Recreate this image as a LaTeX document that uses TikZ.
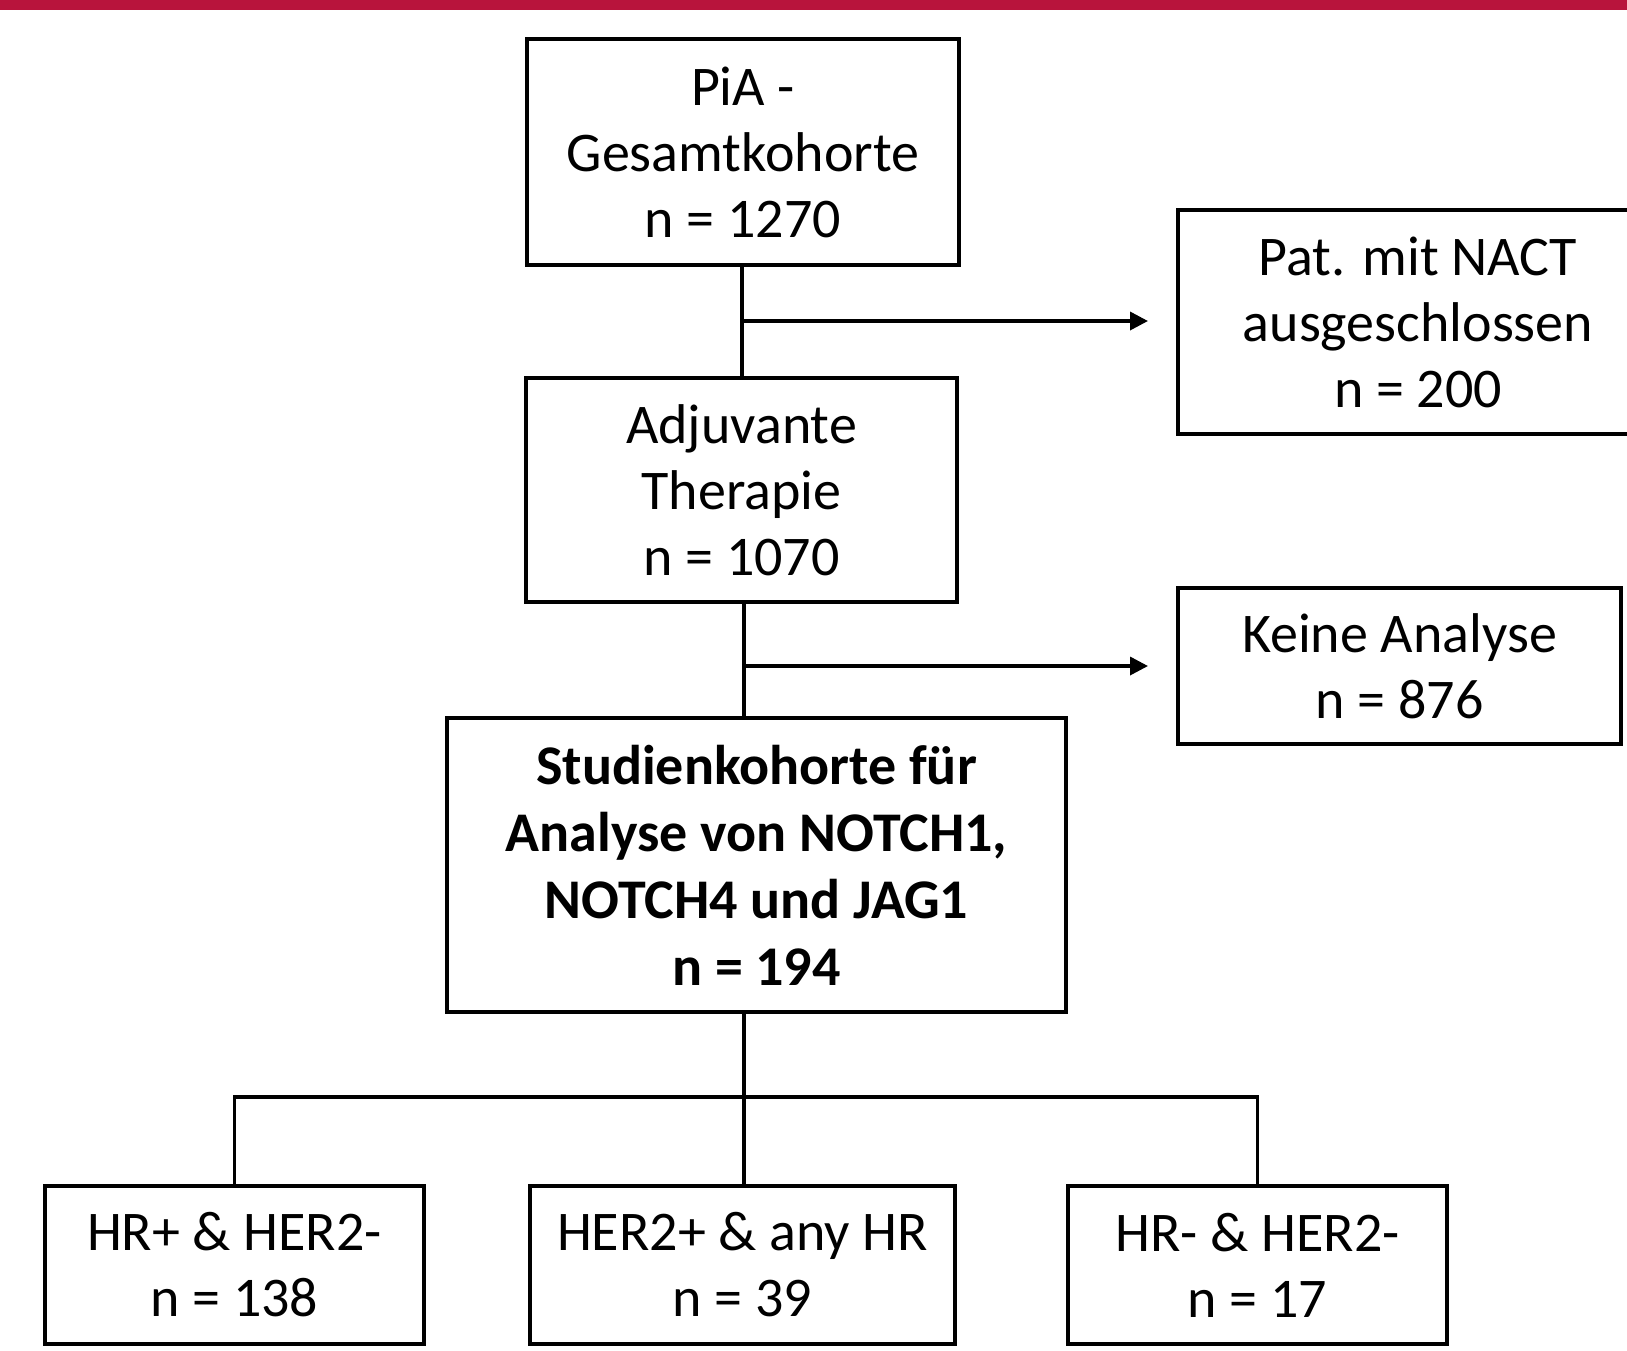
\documentclass[tikz,border=0pt]{standalone}
\usepackage{fontspec}
\setmainfont{Carlito}
\usetikzlibrary{arrows.meta}
\definecolor{barred}{HTML}{B8143C}
\begin{document}
\begin{tikzpicture}[x=1pt,y=-1pt,
  box/.style={draw, line width=4pt, align=center, inner sep=0pt, font=\fontsize{56}{66}\selectfont},
  conn/.style={line width=3.5pt},
  arr/.style={conn, -{Triangle[length=18pt,width=18pt]}}]
\useasboundingbox (0,0) rectangle (1627,1350);
\clip (0,0) rectangle (1627,1350);
\fill[barred] (0,0) rectangle (1627,10);
\node[box, minimum width=432pt, minimum height=226pt] (pia) at (743,152) {PiA -\\Gesamtkohorte\\n = 1270};
\node[box, minimum width=480pt, minimum height=224pt] (nact) at (1418,322) {Pat. mit NACT\\ausgeschlossen\\n = 200};
\node[box, minimum width=431pt, minimum height=224pt] (adj) at (741.5,490) {Adjuvante\\Therapie\\n = 1070};
\node[box, minimum width=443pt, minimum height=156pt] (keine) at (1399.5,666) {Keine Analyse\\n = 876};
\node[box, minimum width=619pt, minimum height=294pt, font=\fontsize{56}{67}\selectfont\bfseries] (stud) at (756.5,865) {Studienkohorte für\\Analyse von NOTCH1,\\NOTCH4 und JAG1\\n = 194};
\node[box, minimum width=379pt, minimum height=158pt] (hrp) at (234.5,1265) {HR+ \& HER2-\\n = 138};
\node[box, minimum width=425pt, minimum height=158pt] (her) at (742.5,1265) {HER2+ \& any HR\\n = 39};
\node[box, minimum width=379pt, minimum height=158pt] (hrm) at (1257.5,1265) {HR- \& HER2-\\n = 17};
\coordinate (b1) at (742,321);
\coordinate (b2) at (744,666);
\coordinate (b3) at (744,1097);
\draw[conn] (pia.south -| b1) -- (adj.north -| b1);
\draw[arr] (b1) -- ([xshift=-28pt]nact.west |- b1);
\draw[conn] (adj.south -| b2) -- (stud.north -| b2);
\draw[arr] (b2) -- ([xshift=-28pt]keine.west |- b2);
\draw[conn] (stud.south -| b3) -- (her.north -| b3);
\draw[conn] (hrp.north) |- (b3) -| (hrm.north);
\end{tikzpicture}
\end{document}
